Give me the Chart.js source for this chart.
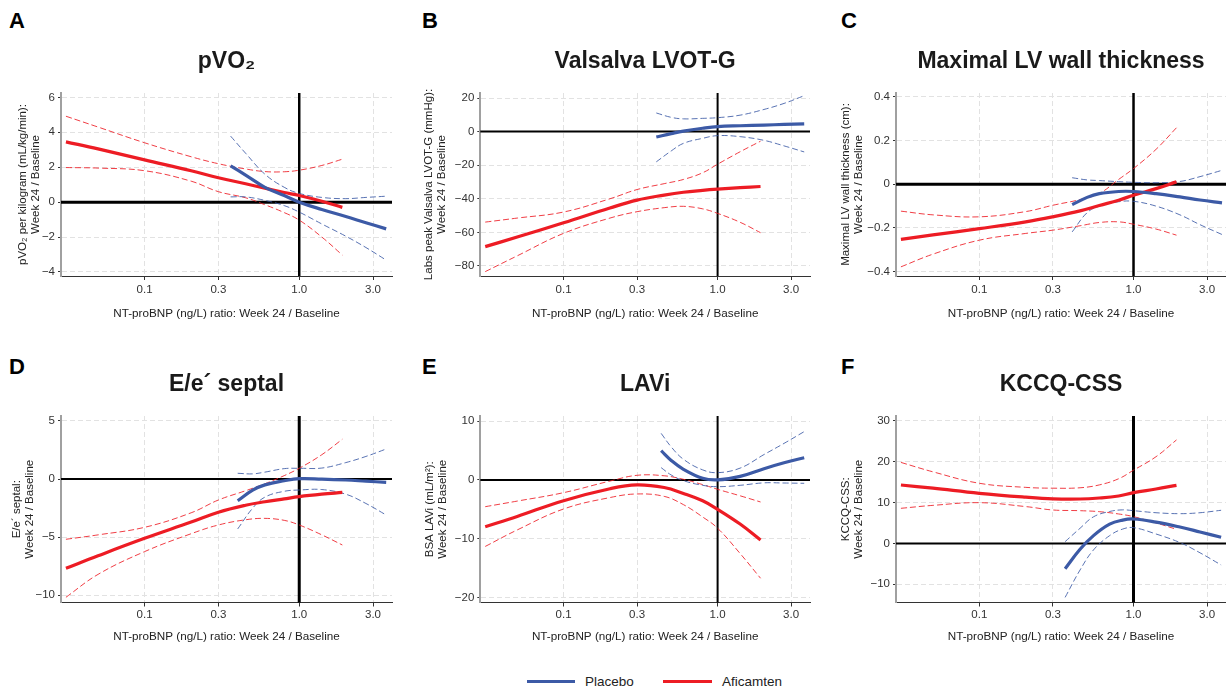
<!DOCTYPE html>
<html lang="en">
<head>
<meta charset="UTF-8">
<title>NT-proBNP ratio vs. week 24 change</title>
<script src="https://cdn.jsdelivr.net/npm/chart.js"></script>
<style>
  body { margin: 0; width: 1226px; height: 690px; background: #fff; position: relative; overflow: hidden;
         font-family: "Liberation Sans", Arial, Helvetica, sans-serif; }
  canvas { position: absolute; }
  .tag { position: absolute; font-weight: bold; font-size: 22px; line-height: 22px; color: #000; }
  .key { position: absolute; height: 3px; top: 680px; }
  .keytxt { position: absolute; top: 674px; font-size: 13.5px; line-height: 16px; color: #222; }
</style>
</head>
<body>
<div class="tag" style="left:9px;top:9.6px">A</div>
<div class="tag" style="left:422px;top:9.6px">B</div>
<div class="tag" style="left:841px;top:9.6px">C</div>
<div class="tag" style="left:9px;top:356px">D</div>
<div class="tag" style="left:422px;top:356px">E</div>
<div class="tag" style="left:841px;top:356px">F</div>

<canvas id="cA" width="394" height="330" style="left:0;top:0"></canvas>
<canvas id="cB" width="407" height="330" style="left:405px;top:0"></canvas>
<canvas id="cC" width="416" height="330" style="left:810px;top:0"></canvas>
<canvas id="cD" width="394" height="330" style="left:0;top:323px"></canvas>
<canvas id="cE" width="407" height="330" style="left:405px;top:323px"></canvas>
<canvas id="cF" width="416" height="330" style="left:810px;top:323px"></canvas>

<div class="key" style="left:527px;width:48px;background:#3c5aa6"></div>
<div class="keytxt" style="left:585px">Placebo</div>
<div class="key" style="left:663px;width:49px;background:#ed1c24"></div>
<div class="keytxt" style="left:722px">Aficamten</div>

<script>
    const FONT = '"Liberation Sans", Arial, Helvetica, sans-serif';
    const RED = '#ed1c24';
    const BLUE = '#3c5aa6';
    const RED_CI = 'rgba(237, 28, 36, 0.85)';
    const BLUE_CI = 'rgba(60, 90, 166, 0.85)';

    // x axis: NT-proBNP ratio, week 24 / baseline (log scale)
    const X_MIN = 0.0288;
    const X_MAX = 3.98;
    const X_TICKS = [0.1, 0.3, 1, 3];
    const X_LABELS = ['0.1', '0.3', '1.0', '3.0'];
    const AFI_X = [0.031, 0.05, 0.1, 0.2, 0.3, 0.45, 0.6, 0.8, 1.0, 1.4, 1.9];

    // A: pVO2
    const pvo2Ticks = [-4, -2, 0, 2, 4, 6];
    const pvo2Afi   = [3.45, 3.05, 2.42, 1.8, 1.4, 1.05, 0.8, 0.55, 0.38, 0.05, -0.3];
    const pvo2AfiLo = [1.98, 1.95, 1.8, 1.2, 0.6, 0.25, -0.15, -0.6, -1.03, -2.0, -3.03];
    const pvo2AfiHi = [4.92, 4.3, 3.4, 2.6, 2.2, 1.9, 1.75, 1.74, 1.83, 2.1, 2.46];
    const pvo2PboX  = [0.36, 0.45, 0.6, 0.8, 1.0, 1.4, 2.0, 2.7, 3.65];
    const pvo2Pbo   = [2.08, 1.55, 0.85, 0.38, 0.0, -0.42, -0.82, -1.18, -1.53];
    const pvo2PboLo = [0.3, 0.3, 0.1, -0.2, -0.57, -1.25, -1.95, -2.6, -3.32];
    const pvo2PboHi = [3.78, 2.8, 1.6, 0.85, 0.5, 0.27, 0.2, 0.27, 0.34];

    // B: Valsalva LVOT-G
    const lvotTicks = [-80, -60, -40, -20, 0, 20];
    const lvotAfi   = [-68.5, -62.8, -54.3, -45.5, -40.8, -37.8, -36.1, -35.0, -34.3, -33.4, -32.7];
    const lvotAfiLo = [-83.4, -74, -60.6, -51.5, -47.7, -45.3, -44.5, -46, -48.7, -54, -60.2];
    const lvotAfiHi = [-53.9, -51.5, -47.9, -40, -34.5, -31, -28.5, -24.5, -19.4, -12, -5.7];
    const lvotPboX  = [0.4, 0.5, 0.6, 0.8, 1.0, 1.4, 2.0, 2.7, 3.65];
    const lvotPbo   = [-3.2, -1.2, 0.3, 2.0, 3.0, 3.5, 3.9, 4.3, 4.6];
    const lvotPboLo = [-18, -11.5, -7, -4, -2.4, -3, -5.2, -8.5, -12.1];
    const lvotPboHi = [11.1, 8.5, 7.6, 7.9, 8.3, 9.8, 13.2, 16.8, 21.4];

    // C: maximal LV wall thickness
    const lvwtTicks = [-0.4, -0.2, 0, 0.2, 0.4];
    const lvwtAfi   = [-0.252, -0.232, -0.203, -0.172, -0.149, -0.122, -0.097, -0.073, -0.05, -0.02, 0.011];
    const lvwtAfiLo = [-0.378, -0.32, -0.256, -0.225, -0.21, -0.19, -0.175, -0.172, -0.183, -0.205, -0.233];
    const lvwtAfiHi = [-0.123, -0.14, -0.149, -0.125, -0.096, -0.07, -0.042, 0.022, 0.072, 0.16, 0.259];
    const lvwtPboX  = [0.4, 0.5, 0.6, 0.8, 1.0, 1.4, 2.0, 2.7, 3.75];
    const lvwtPbo   = [-0.093, -0.06, -0.043, -0.033, -0.033, -0.043, -0.058, -0.072, -0.085];
    const lvwtPboLo = [-0.218, -0.13, -0.1, -0.08, -0.078, -0.1, -0.14, -0.185, -0.23];
    const lvwtPboHi = [0.03, 0.02, 0.017, 0.012, 0.009, 0.007, 0.013, 0.035, 0.064];

    // D: E/e' septal
    const eeTicks = [-10, -5, 0, 5];
    const eeAfi   = [-7.68, -6.6, -5.1, -3.7, -2.85, -2.25, -1.95, -1.7, -1.51, -1.3, -1.15];
    const eeAfiLo = [-10.17, -8.2, -6.24, -4.7, -3.95, -3.5, -3.38, -3.55, -3.95, -4.8, -5.67];
    const eeAfiHi = [-5.18, -4.8, -4.15, -2.9, -1.8, -1.0, -0.4, 0.3, 0.93, 2.1, 3.43];
    const eePboX  = [0.4, 0.5, 0.6, 0.8, 1.0, 1.4, 2.0, 2.7, 3.65];
    const eePbo   = [-1.86, -0.95, -0.5, -0.14, 0.04, 0.0, -0.08, -0.18, -0.28];
    const eePboLo = [-4.29, -2.5, -1.55, -1.05, -0.94, -0.9, -1.3, -2.1, -3.09];
    const eePboHi = [0.5, 0.45, 0.6, 0.9, 0.93, 0.95, 1.42, 1.95, 2.59];

    // E: LAVi
    const laviTicks = [-20, -10, 0, 10];
    const laviAfi   = [-7.94, -6.2, -3.53, -1.5, -0.85, -1.3, -2.3, -3.55, -5.0, -7.5, -10.2];
    const laviAfiLo = [-11.3, -8.5, -4.94, -3.0, -2.39, -2.8, -4.2, -6.3, -8.2, -12.5, -16.7];
    const laviAfiHi = [-4.55, -3.6, -2.17, -0.2, 0.78, 0.7, 0.1, -0.8, -1.6, -2.7, -3.75];
    const laviPboX  = [0.43, 0.5, 0.6, 0.8, 1.0, 1.4, 2.0, 2.7, 3.65];
    const laviPbo   = [4.96, 3.3, 1.8, 0.27, 0.0, 0.6, 1.9, 2.9, 3.77];
    const laviPboLo = [2.08, 0.83, -0.13, -0.92, -1.15, -0.92, -0.5, -0.53, -0.58];
    const laviPboHi = [7.9, 5.6, 3.5, 1.7, 1.23, 2.0, 4.3, 6.2, 8.2];

    // F: KCCQ-CSS
    const kccqTicks = [-10, 0, 10, 20, 30];
    const kccqAfi   = [14.28, 13.5, 12.24, 11.3, 10.9, 10.85, 11.1, 11.6, 12.41, 13.3, 14.2];
    const kccqAfiLo = [8.58, 9.3, 9.96, 9.0, 8.17, 8.0, 7.76, 7.2, 6.54, 5.0, 3.45];
    const kccqAfiHi = [19.8, 17.5, 14.7, 13.7, 13.5, 13.6, 14.3, 15.8, 17.9, 21.2, 25.3];
    const kccqPboX  = [0.36, 0.45, 0.55, 0.7, 0.85, 1.0, 1.4, 2.0, 2.7, 3.7];
    const kccqPbo   = [-6.2, -1.45, 1.9, 4.7, 5.7, 5.97, 5.2, 4.0, 2.8, 1.5];
    const kccqPboLo = [-13.2, -6.5, -1.6, 1.9, 3.5, 3.85, 2.3, 0.2, -2.3, -5.27];
    const kccqPboHi = [0.43, 3.7, 6.5, 7.8, 8.2, 8.0, 7.5, 7.27, 7.5, 8.1];

    const X_TITLE = 'NT-proBNP (ng/L) ratio: Week 24 / Baseline';

    const rows = [
        {xAxisH: 54, tickPad: 3, xTitlePad: 9.5},
        {xAxisH: 50.5, tickPad: 1, xTitlePad: 8.8}
    ];

    const panels = [
        {id: 'cA', row: 0, title: 'pVO₂', yTitle: ['pVO₂ per kilogram (mL/kg/min):', 'Week 24 / Baseline'],
         yMin: -4.23, yMax: 6.25, yTicks: pvo2Ticks, axisW: 61, yTitleX: 23, padR: 2, hW: 3, vW: 2.5,
         afi: [pvo2Afi, pvo2AfiLo, pvo2AfiHi], pboX: pvo2PboX, pbo: [pvo2Pbo, pvo2PboLo, pvo2PboHi]},
        {id: 'cB', row: 0, title: 'Valsalva LVOT-G', yTitle: ['Labs peak Valsalva LVOT-G (mmHg):', 'Week 24 / Baseline'],
         yMin: -86, yMax: 23, yTicks: lvotTicks, axisW: 75.3, yTitleX: 23.5, padR: 2, hW: 2, vW: 2,
         afi: [lvotAfi, lvotAfiLo, lvotAfiHi], pboX: lvotPboX, pbo: [lvotPbo, lvotPboLo, lvotPboHi]},
        {id: 'cC', row: 0, title: 'Maximal LV wall thickness', yTitle: ['Maximal LV wall thickness (cm):', 'Week 24 / Baseline'],
         yMin: -0.42, yMax: 0.418, yTicks: lvwtTicks, axisW: 86, yTitleX: 36, padR: 0, hW: 3, vW: 2.5,
         afi: [lvwtAfi, lvwtAfiLo, lvwtAfiHi], pboX: lvwtPboX, pbo: [lvwtPbo, lvwtPboLo, lvwtPboHi]},
        {id: 'cD', row: 1, title: 'E/e´ septal', yTitle: ['E/e´ septal:', 'Week 24 / Baseline'],
         yMin: -10.62, yMax: 5.43, yTicks: eeTicks, axisW: 61, yTitleX: 17, padR: 2, hW: 2, vW: 3,
         afi: [eeAfi, eeAfiLo, eeAfiHi], pboX: eePboX, pbo: [eePbo, eePboLo, eePboHi]},
        {id: 'cE', row: 1, title: 'LAVi', yTitle: ['BSA LAVi (mL/m²):', 'Week 24 / Baseline'],
         yMin: -20.82, yMax: 10.85, yTicks: laviTicks, axisW: 75.3, yTitleX: 25, padR: 2, hW: 2, vW: 2,
         afi: [laviAfi, laviAfiLo, laviAfiHi], pboX: laviPboX, pbo: [laviPbo, laviPboLo, laviPboHi]},
        {id: 'cF', row: 1, title: 'KCCQ-CSS', yTitle: ['KCCQ-CSS:', 'Week 24 / Baseline'],
         yMin: -14.45, yMax: 31.15, yTicks: kccqTicks, axisW: 86, yTitleX: 36, padR: 0, hW: 2, vW: 3,
         afi: [kccqAfi, kccqAfiLo, kccqAfiHi], pboX: kccqPboX, pbo: [kccqPbo, kccqPboLo, kccqPboHi]}
    ];

    // black reference lines at y = 0 and x = 1.0
    const refLines = {
        id: 'refLines',
        beforeDatasetsDraw(chart, args, opts) {
            const {ctx, chartArea: a, scales: {x, y}} = chart;
            const y0 = y.getPixelForValue(0);
            const x1 = x.getPixelForValue(1);
            ctx.save();
            ctx.strokeStyle = '#000';
            ctx.lineWidth = opts.hW;
            ctx.beginPath(); ctx.moveTo(a.left, y0); ctx.lineTo(a.right, y0); ctx.stroke();
            ctx.lineWidth = opts.vW;
            ctx.beginPath(); ctx.moveTo(x1, a.top); ctx.lineTo(x1, a.bottom); ctx.stroke();
            ctx.restore();
        }
    };

    function pts(xs, ys) {
        return xs.map((x, i) => ({x: x, y: ys[i]}));
    }

    function minus(v) {
        return v < 0 ? '\u2212' + String(Math.abs(v)) : String(v);
    }

    Chart.defaults.font.family = FONT;
    Chart.defaults.color = '#333';

    panels.forEach(p => {
        const r = rows[p.row];
        const datasets = [
            {label: 'Placebo', data: pts(p.pboX, p.pbo[0]), borderColor: BLUE, borderWidth: 3.2},
            {label: 'Aficamten', data: pts(AFI_X, p.afi[0]), borderColor: RED, borderWidth: 3.2},
            {data: pts(p.pboX, p.pbo[1]), borderColor: BLUE_CI, borderWidth: 1, borderDash: [6, 3]},
            {data: pts(p.pboX, p.pbo[2]), borderColor: BLUE_CI, borderWidth: 1, borderDash: [6, 3]},
            {data: pts(AFI_X, p.afi[1]), borderColor: RED_CI, borderWidth: 1, borderDash: [6, 3]},
            {data: pts(AFI_X, p.afi[2]), borderColor: RED_CI, borderWidth: 1, borderDash: [6, 3]}
        ];

        new Chart(document.getElementById(p.id), {
            type: 'line',
            data: {datasets: datasets},
            plugins: [refLines],
            options: {
                responsive: false,
                animation: false,
                layout: {padding: {left: 0, right: p.padR, top: 0, bottom: 0}},
                elements: {
                    point: {radius: 0},
                    line: {tension: 0.4, fill: false}
                },
                plugins: {
                    legend: {display: false},
                    tooltip: {enabled: false},
                    refLines: {hW: p.hW, vW: p.vW},
                    title: {
                        display: true,
                        text: p.title,
                        fullSize: false,
                        color: '#1a1a1a',
                        font: {size: 23, weight: 'bold'},
                        padding: {top: 47.4, bottom: 18}
                    }
                },
                scales: {
                    x: {
                        type: 'logarithmic',
                        min: X_MIN,
                        max: X_MAX,
                        afterBuildTicks: s => { s.ticks = X_TICKS.map(v => ({value: v})); },
                        afterFit: s => { s.height = r.xAxisH; },
                        ticks: {
                            autoSkip: false, maxRotation: 0, padding: r.tickPad,
                            color: '#333', font: {size: 11.5},
                            callback: v => X_LABELS[X_TICKS.indexOf(v)]
                        },
                        grid: {color: '#e2e2e2', lineWidth: 1, tickLength: 4, tickColor: '#333', tickWidth: 1},
                        border: {color: '#333', width: 1, dash: [5, 3]},
                        title: {
                            display: true, text: X_TITLE, color: '#222',
                            font: {size: 11.7, lineHeight: 1.2},
                            padding: {top: 0, bottom: r.xTitlePad}
                        }
                    },
                    y: {
                        type: 'linear',
                        min: p.yMin,
                        max: p.yMax,
                        afterBuildTicks: s => { s.ticks = p.yTicks.map(v => ({value: v})); },
                        afterFit: s => { s.width = p.axisW; },
                        ticks: {padding: 3, color: '#333', font: {size: 11.5}, callback: v => minus(v)},
                        grid: {color: '#e2e2e2', lineWidth: 1, tickLength: 3, tickColor: '#333', tickWidth: 1},
                        border: {color: '#a0a0a0', width: 2, dash: [5, 3]},
                        title: {
                            display: true, text: p.yTitle, color: '#222',
                            font: {size: 11.5, lineHeight: 1.15},
                            padding: {top: p.yTitleX - 6.6, bottom: 0}
                        }
                    }
                }
            }
        });
    });
</script>
</body>
</html>
